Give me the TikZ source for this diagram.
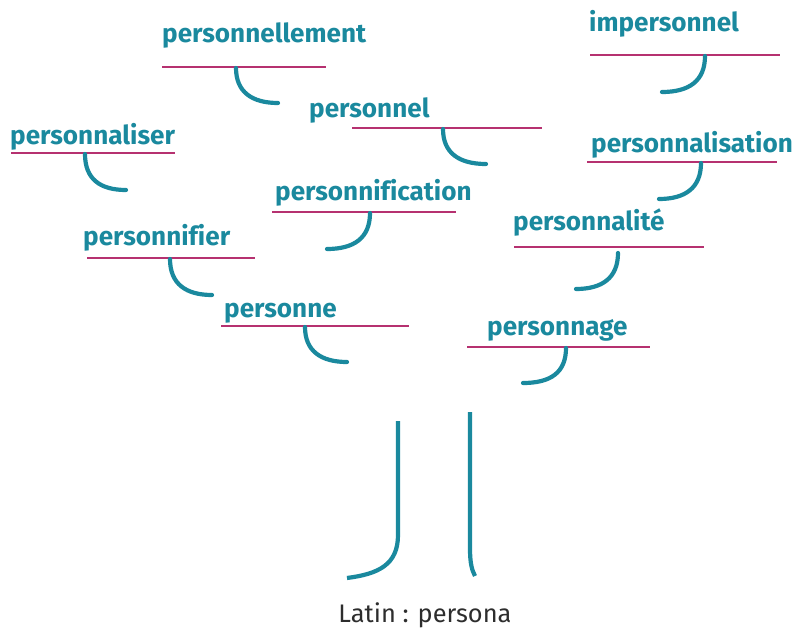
\documentclass[tikz,border=0pt]{standalone}
\usepackage{fontspec}
\setmainfont{Fira Sans}[Ligatures=NoCommon]
\definecolor{teal}{RGB}{26,137,158}
\definecolor{magline}{RGB}{182,49,112}
\definecolor{darkgray}{RGB}{45,45,45}
\begin{document}
\begin{tikzpicture}[x=1bp,y=-1bp,
  word/.style={anchor=base west,inner sep=0pt,text=teal,font=\fontsize{26.2}{30}\selectfont\bfseries},
  rule/.style={draw=magline,line width=2.3bp},
  hook/.style={draw=teal,line width=4.2bp,line cap=round},
  trunk/.style={draw=teal,line width=4.2bp}]
\useasboundingbox (0,0) rectangle (798,630);
% words
\node[word] (w1) at (162,43) {personnellement};
\node[word] (w2) at (589,32) {impersonnel};
\node[word] (w3) at (309,118) {personnel};
\node[word] (w4) at (10,145) {personnaliser};
\node[word] (w5) at (591,153) {personnalisation};
\node[word] (w6) at (275,201) {personnification};
\node[word] (w7) at (513,231) {personnalité};
\node[word] (w8) at (83,245) {personnifier};
\node[word] (w9) at (224,317) {personne};
\node[word] (w10) at (487,335) {personnage};
% rules
\draw[rule] (162,67) -- (326,67);
\draw[rule] (590,55) -- (780,55);
\draw[rule] (352,128) -- (542,128);
\draw[rule] (11,153) -- (175,153);
\draw[rule] (587,162) -- (777,162);
\draw[rule] (272,212) -- (456,212);
\draw[rule] (514,247) -- (704,247);
\draw[rule] (87,258) -- (255,258);
\draw[rule] (221,326) -- (409,326);
\draw[rule] (467,347) -- (650,347);
% hooks (right-turning)
\draw[hook] (236,68) .. controls (236,92) and (252,103) .. (278,103);
\draw[hook] (443,129) .. controls (443,153) and (459,164) .. (486,164);
\draw[hook] (85,154) .. controls (85,179) and (100,190) .. (126,190);
\draw[hook] (170,259) .. controls (170,284) and (186,295) .. (212,295);
\draw[hook] (305,327) .. controls (305,351) and (321,362) .. (347,362);
% hooks (left-turning)
\draw[hook] (705,56) .. controls (705,81) and (689,92) .. (662,92);
\draw[hook] (701,163) .. controls (701,188) and (685,199) .. (659,199);
\draw[hook] (370,213) .. controls (370,238) and (354,249) .. (327,249);
\draw[hook] (618,253) .. controls (618,278) and (602,289) .. (576,289);
\draw[hook] (566,348) .. controls (566,373) and (550,383) .. (523,383);
% trunk
\draw[trunk] (398,421) -- (398,535) .. controls (398,565) and (378,574) .. (347,578);
\draw[trunk] (470,412) -- (470,548) .. controls (470,564) and (472,570) .. (475,576);
\node[anchor=base,inner sep=0pt,text=darkgray,font=\fontsize{25.5}{30}\selectfont] (latin) at (425,622) {Latin : persona};
\end{tikzpicture}
\end{document}
